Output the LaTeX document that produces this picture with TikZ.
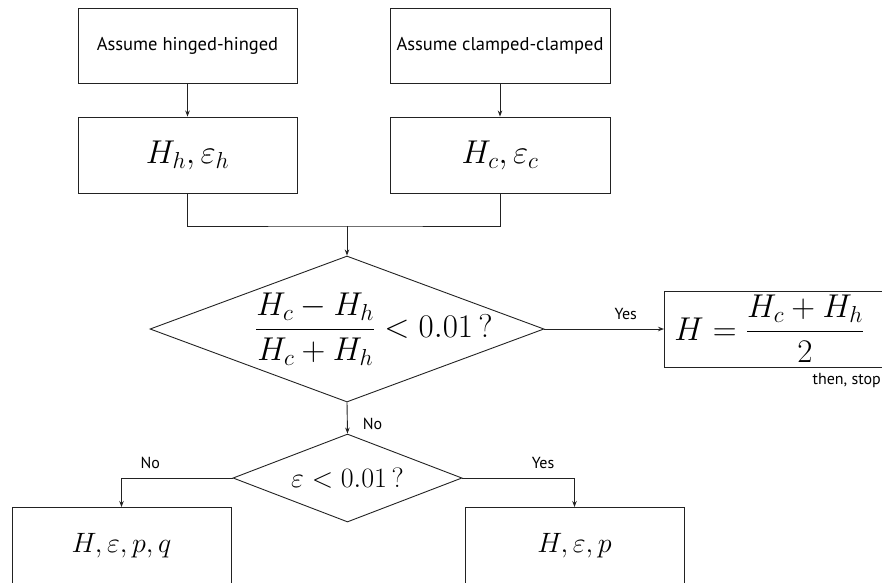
\RequirePackage{fix-cm}
\documentclass[tikz,border=0pt]{standalone}
\usepackage{amsmath}
\usepackage{fontspec}
\setsansfont{PT Sans}
\usetikzlibrary{shapes.geometric,arrows.meta}
\definecolor{lc}{HTML}{222222}
\begin{document}
\begin{tikzpicture}[x=1pt,y=-1pt,
  box/.style={draw=lc, line width=0.9pt, minimum width=220pt, minimum height=76pt, inner sep=0pt},
  dia/.style={diamond, draw=lc, line width=0.9pt, inner sep=0pt},
  arr/.style={-{Stealth[length=6pt,width=4.5pt]}, draw=lc, line width=0.9pt},
  ln/.style={draw=lc, line width=0.9pt},
  lbl/.style={font=\sffamily\fontsize{16}{19}\selectfont, inner sep=0pt},
  stxt/.style={font=\sffamily\fontsize{18.5}{22}\selectfont},
  mth/.style={font=\fontsize{33}{40}\selectfont},
  smth/.style={font=\fontsize{28}{34}\selectfont}]
\useasboundingbox (0,0) rectangle (882,582);
\clip (0,0) rectangle (882,582);
% top boxes
\node[box, stxt, minimum width=219pt, minimum height=75pt] (tl) at (187.5,45.5) {Assume hinged-hinged};
\node[box, stxt, minimum height=75pt] (tr) at (500,45.5) {Assume clamped-clamped};
\node[box, mth, minimum width=219pt] (ml) at (187.5,155) {$H_h,\varepsilon_h$};
\node[box, mth] (mr) at (500,155) {$H_c,\varepsilon_c$};
% first decision
\node[dia, minimum width=394pt, minimum height=146pt] (d1) at (347,329) {};
\node[mth] (q1) at (374,329) {$\dfrac{H_c-H_h}{H_c+H_h} < 0.01\,?$};
% result box
\node[draw=lc, line width=0.9pt, anchor=west, text width=212pt, inner xsep=10pt, minimum height=76pt, mth] (hb) at (664,329) {$H = \dfrac{H_c+H_h}{2}$};
\node[lbl, anchor=east] (stop) at (881,380) {then, stop};
% second decision
\node[dia, minimum width=229pt, minimum height=88pt] (d2) at (347.5,478) {};
\node[smth] (q2) at (d2.center) {$\varepsilon < 0.01\,?$};
% bottom boxes
\node[box, smth, minimum width=219pt, anchor=north] (bl) at (121.5,507) {$H,\varepsilon,p,q$};
\node[box, smth, minimum width=219pt, anchor=north] (br) at (574.5,507) {$H,\varepsilon,p$};
% connectors
\draw[arr] (tl) -- (ml);
\draw[arr] (tr) -- (mr);
\coordinate (jy) at (0,226);
\coordinate (j) at (d1.north |- jy);
\draw[ln] (ml.south) |- (j) -| (mr.south);
\draw[arr] (j) -- (d1.north);
\draw[arr] (d1.east) -- node[lbl, pos=0.68, anchor=south, yshift=9pt] {Yes} (hb.west);
\draw[arr] (d1.south) -- node[lbl, pos=0.68, anchor=west, xshift=15pt] {No} (d2.north);
\draw[arr] (d2.west) -| node[lbl, pos=0.37, anchor=south, yshift=9pt] {No} (bl.north);
\draw[arr] (d2.east) -| node[lbl, pos=0.36, anchor=south, yshift=9pt] {Yes} (br.north);
\end{tikzpicture}
\end{document}
